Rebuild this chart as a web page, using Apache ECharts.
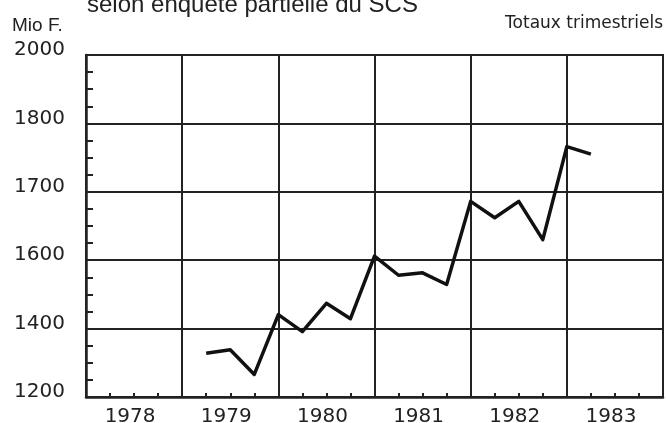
<!DOCTYPE html>
<html>
<head>
<meta charset="utf-8">
<script src="https://cdn.jsdelivr.net/npm/echarts@6/dist/echarts.min.js"></script>
<style>
    html, body { margin: 0; padding: 0; background: #fff; }
    #chart { width: 666px; height: 423px; }
</style>
</head>
<body>
<div id="chart"></div>
<script>
// quarterly totals, plotted at the end of each quarter
var quarters = [1979.25, 1979.5, 1979.75, 1980, 1980.25, 1980.5, 1980.75, 1981,
    1981.25, 1981.5, 1981.75, 1982, 1982.25, 1982.5, 1982.75, 1983, 1983.25];
var totals = [1328, 1338, 1266, 1441, 1391, 1474, 1429, 1606,
    1556, 1563, 1529, 1686, 1662, 1686, 1630, 1766, 1755];
// the y axis is drawn in equal bands, whatever the step between the labels
var yTicks = [1200, 1400, 1600, 1700, 1800, 2000];
var years = [1978, 1979, 1980, 1981, 1982, 1983];

var ink = '#222';

// value -> band position (0 .. yTicks.length-1)
function toBand(v) {
    for (var i = 0; i < yTicks.length - 1; i++) {
        if (v <= yTicks[i + 1]) {
            return i + (v - yTicks[i]) / (yTicks[i + 1] - yTicks[i]);
        }
    }
    return yTicks.length - 1;
}

var lineData = quarters.map(function (q, i) {
    return [q, toBand(totals[i])];
});
var yearMiddles = years.map(function (y) { return y + 0.5; });

var chart = echarts.init(document.getElementById('chart'));
var option = {
    backgroundColor: '#fff',
    animation: false,
    grid: {
        left: 86,
        right: 3,
        top: 55,
        bottom: 26,
        outerBoundsMode: 'none',
        containLabel: false,
        show: true,
        borderColor: ink,
        borderWidth: 2
    },
    graphic: [
        {
            type: 'text',
            left: 87,
            top: -7,
            style: {
                text: 'selon enquête partielle du SCS',
                font: '24px "Liberation Sans", Arial, sans-serif',
                fill: ink
            }
        },
        {
            type: 'text',
            left: 12,
            top: 16,
            style: {
                text: 'Mio F.',
                font: '19px "Liberation Sans", Arial, sans-serif',
                fill: ink
            }
        },
        {
            type: 'text',
            right: 3,
            top: 15,
            style: {
                text: 'Totaux trimestriels',
                font: '17px "DejaVu Sans", sans-serif',
                fill: ink
            }
        }
    ],
    xAxis: {
        type: 'value',
        min: 1978,
        max: 1984,
        interval: 1,
        axisLine: { show: true, lineStyle: { color: ink, width: 2.5 } },
        axisTick: { show: true, inside: true, length: 4, lineStyle: { color: ink, width: 2 } },
        minorTick: { show: true, splitNumber: 4, length: 4, lineStyle: { color: ink, width: 2 } },
        splitLine: { show: true, lineStyle: { color: ink, width: 2 } },
        minorSplitLine: { show: false },
        axisLabel: {
            customValues: yearMiddles,
            formatter: function (v) { return String(Math.floor(v)); },
            color: ink,
            fontFamily: 'DejaVu Sans',
            fontSize: 20,
            margin: 10,
            padding: [0, 8, 0, 0]
        }
    },
    yAxis: {
        type: 'value',
        min: 0,
        max: yTicks.length - 1,
        interval: 1,
        axisLine: { show: true, lineStyle: { color: ink, width: 2.5 } },
        axisTick: { show: true, inside: true, length: 7, lineStyle: { color: ink, width: 2 } },
        minorTick: { show: true, splitNumber: 4, length: 7, lineStyle: { color: ink, width: 2 } },
        splitLine: { show: true, lineStyle: { color: ink, width: 2 } },
        axisLabel: {
            formatter: function (v) { return String(yTicks[Math.round(v)]); },
            color: ink,
            fontFamily: 'DejaVu Sans',
            fontSize: 20,
            margin: 21,
            verticalAlign: 'bottom',
            lineHeight: 10
        }
    },
    series: [{
        type: 'line',
        data: lineData,
        symbol: 'none',
        lineStyle: { color: '#111', width: 3.5, join: 'round' }
    }]
};
chart.setOption(option);
</script>
</body>
</html>
